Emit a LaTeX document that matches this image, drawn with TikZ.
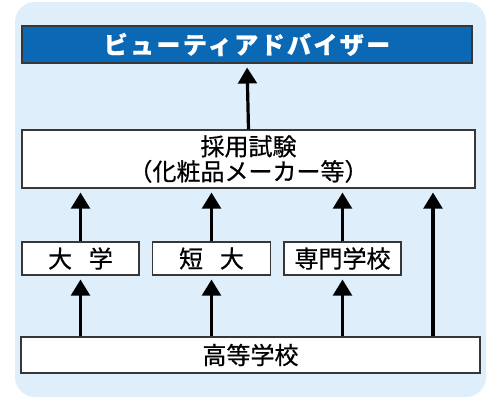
\documentclass[tikz,border=0pt]{standalone}
\usepackage{fontspec}
\setmainfont{Noto Sans CJK JP}[FakeBold=0.6]
\usepackage{tikz}
\usetikzlibrary{arrows.meta, positioning}
\definecolor{bgblue}{RGB}{222,239,251}
\definecolor{topblue}{RGB}{10,104,180}
\definecolor{edge}{RGB}{55,55,55}

\begin{document}
\begin{tikzpicture}[x=0.75pt, y=-0.75pt, >={Triangle[length=12pt, width=14pt]}, font=\fontsize{18pt}{18.75pt}\selectfont]
\tikzstyle{bx}=[draw=edge, line width=0.8pt, fill=white, inner sep=0pt, align=center]
\tikzstyle{up}=[->, line width=2.4pt, shorten >=3pt]

\useasboundingbox (0,0) rectangle (500,400);
\fill[bgblue, rounded corners=15pt] (15,2) rectangle (486,397);

\node[bx, fill=topblue, text=white, minimum width=337.5pt, minimum height=27.75pt,
  font=\fontsize{18pt}{18.75pt}\selectfont\bfseries\addfontfeature{LetterSpace=10}] (BA) at (247,44.5) {ビューティアドバイザー};

\node[bx, minimum width=339.75pt, minimum height=43.5pt] (exam) at (248.5,159) {採用試験\\（化粧品メーカー等）};
\draw[up] (exam.north) -- (BA.south);

\node[bx, minimum width=344.25pt, minimum height=27pt] (high) at (250.5,355) {高等学校};

\node[bx, minimum width=87.75pt, minimum height=24.75pt] (univ) at (80.5,258.5) {大\hspace{0.7em}学};
\node[bx, minimum width=88.5pt, minimum height=24.75pt] (junior) at (211.5,258.5) {短\hspace{0.7em}大};
\node[bx, minimum width=87.75pt, minimum height=24.75pt] (voc) at (342.5,258.5) {専門学校};
\coordinate (side) at (433,0);

\foreach \s in {univ, junior, voc} {
  \draw[up] (\s.south |- high.north) -- (\s.south);
  \draw[up] (\s.north) -- (\s.north |- exam.south);
}
\draw[up] (high.north -| side) -- (exam.south -| side);
\end{tikzpicture}
\end{document}
